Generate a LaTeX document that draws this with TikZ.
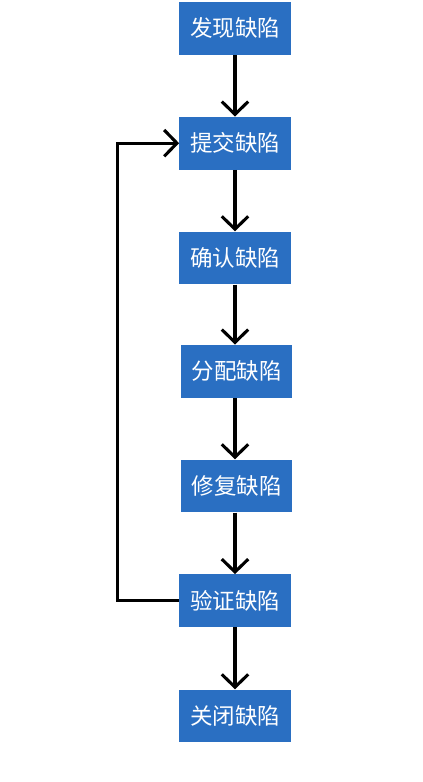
\documentclass[tikz,border=0pt]{standalone}
\usepackage{fontspec}
\usepackage{tikz}
\usetikzlibrary{arrows.meta,positioning}
\newfontfamily\cjk{Noto Sans CJK SC}
\definecolor{Azul}{HTML}{2A6FC2}

\begin{document}
\begin{tikzpicture}[
  font=\cjk\fontsize{16}{18}\selectfont,
  paso/.style={fill=Azul,text=white,minimum width=2.78cm,minimum height=1.32cm,inner sep=0pt},
  arr/.style={-{Straight Barb[length=3.2mm,width=6.6mm]},line width=2.2pt,black}
]
  \useasboundingbox (0,0) rectangle (10.575,19.55);
  % Pasos del flujo de defectos.
  \node[paso] (fx) at (5.875,18.84) {发现缺陷};
  \node[paso] (tj) at (5.875,15.97) {提交缺陷};
  \node[paso] (qr) at (5.875,13.10) {确认缺陷};
  \node[paso] (fp) at (5.915,10.27) {分配缺陷};
  \node[paso] (xf) at (5.915,7.40) {修复缺陷};
  \node[paso] (yz) at (5.875,4.53) {验证缺陷};
  \node[paso] (gb) at (5.875,1.65) {关闭缺陷};

  \draw[arr] (fx)--(tj);
  \draw[arr] (tj)--(qr);
  \draw[arr] (qr)--(qr|-fp.north);
  \draw[arr] (qr|-fp.south)--(qr|-xf.north);
  \draw[arr] (qr|-xf.south)--(yz);
  \draw[arr] (yz)--(gb);

  % Retorno: verificacion fallida vuelve a enviar.
  \draw[arr] (yz.west)--++(-1.55,0) |- (tj.west);
\end{tikzpicture}
\end{document}
